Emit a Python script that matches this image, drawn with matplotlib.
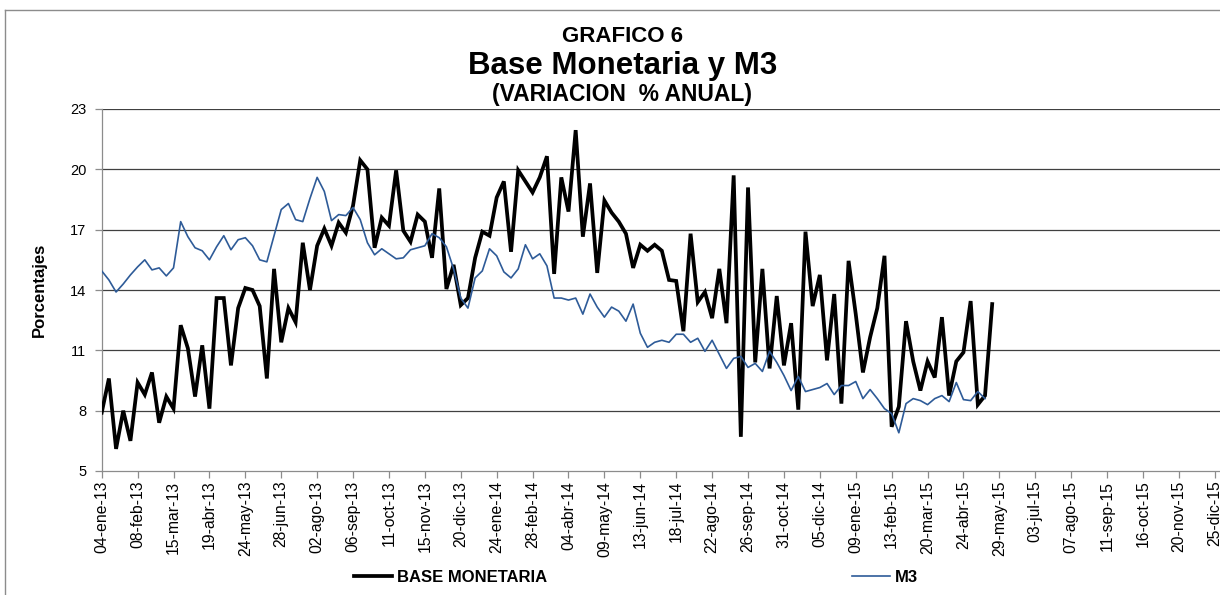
import matplotlib
matplotlib.use("Agg")
import matplotlib.pyplot as plt
import matplotlib.dates as mdates
from matplotlib.lines import Line2D
import numpy as np
import pandas as pd

plt.rcParams['font.family'] = ['Liberation Sans', 'DejaVu Sans']

# ---------------- data (weekly, from 04-ene-13) ----------------
start_date = '2013-01-04'
base_monetaria = [
    7.9, 9.6, 6.1, 8.0, 6.5, 9.4, 8.8, 9.9, 7.4, 8.7,
    8.1, 12.25, 11.1, 8.7, 11.25, 8.1, 13.6, 13.6, 10.25, 13.1,
    14.1, 14.0, 13.2, 9.6, 15.05, 11.4, 13.1, 12.4, 16.35, 14.0,
    16.2, 17.05, 16.2, 17.35, 16.85, 18.2, 20.45, 20.0, 16.1, 17.6,
    17.2, 19.95, 16.95, 16.4, 17.75, 17.4, 15.6, 19.05, 14.05, 15.25,
    13.25, 13.6, 15.6, 16.9, 16.7, 18.6, 19.4, 15.9, 19.95, 19.4,
    18.85, 19.6, 20.65, 14.8, 19.6, 17.9, 21.95, 16.65, 19.3, 14.85,
    18.45, 17.85, 17.4, 16.8, 15.1, 16.25, 15.95, 16.25, 15.95, 14.5,
    14.45, 11.95, 16.8, 13.4, 13.9, 12.6, 15.05, 12.35, 19.7, 6.7,
    19.1, 10.4, 15.05, 10.1, 13.7, 10.25, 12.35, 8.05, 16.9, 13.2,
    14.75, 10.5, 13.8, 8.35, 15.45, 12.8, 9.9, 11.65, 13.1, 15.7,
    7.2, 8.2, 12.45, 10.45, 9.0, 10.45, 9.65, 12.65, 8.75, 10.45,
    10.9, 13.45, 8.3, 8.75, 13.3,
]
m3 = [
    14.95, 14.5, 13.9, 14.3, 14.75, 15.15, 15.5, 15.0, 15.1, 14.7,
    15.1, 17.4, 16.65, 16.1, 15.95, 15.5, 16.15, 16.7, 16.0, 16.5,
    16.6, 16.2, 15.5, 15.4, 16.7, 18.0, 18.3, 17.5, 17.4, 18.55,
    19.6, 18.9, 17.45, 17.75, 17.7, 18.1, 17.5, 16.35, 15.75, 16.05,
    15.8, 15.55, 15.6, 16.0, 16.1, 16.2, 16.8, 16.6, 16.15, 15.05,
    13.6, 13.1, 14.6, 14.95, 16.05, 15.7, 14.9, 14.6, 15.05, 16.25,
    15.55, 15.8, 15.2, 13.6, 13.6, 13.5, 13.6, 12.8, 13.8, 13.15,
    12.65, 13.15, 12.95, 12.45, 13.3, 11.85, 11.15, 11.4, 11.5, 11.4,
    11.8, 11.8, 11.4, 11.6, 10.95, 11.5, 10.8, 10.1, 10.6, 10.7,
    10.15, 10.35, 9.95, 10.95, 10.4, 9.75, 9.0, 9.7, 8.95, 9.05,
    9.15, 9.35, 8.8, 9.25, 9.25, 9.45, 8.6, 9.05, 8.6, 8.1,
    7.85, 6.9, 8.35, 8.6, 8.5, 8.3, 8.6, 8.75, 8.45, 9.4,
    8.55, 8.5, 8.95, 8.6,
]
tick_labels = [
    '04-ene-13', '08-feb-13', '15-mar-13', '19-abr-13', '24-may-13', '28-jun-13',
    '02-ago-13', '06-sep-13', '11-oct-13', '15-nov-13', '20-dic-13', '24-ene-14',
    '28-feb-14', '04-abr-14', '09-may-14', '13-jun-14', '18-jul-14', '22-ago-14',
    '26-sep-14', '31-oct-14', '05-dic-14', '09-ene-15', '13-feb-15', '20-mar-15',
    '24-abr-15', '29-may-15', '03-jul-15', '07-ago-15', '11-sep-15', '16-oct-15',
    '20-nov-15', '25-dic-15',
]
y_ticks = [5, 8, 11, 14, 17, 20, 23]

dates_bm = pd.date_range(start_date, periods=len(base_monetaria), freq='7D')
dates_m3 = pd.date_range(start_date, periods=len(m3), freq='7D')
tick_dates = pd.date_range(start_date, periods=len(tick_labels), freq='35D')

# ---------------- figure ----------------
fig = plt.figure(figsize=(12.2, 5.95), dpi=100)
ax = fig.add_axes([101.7 / 1220, (595 - 471) / 595, (1222 - 101.7) / 1220, 362 / 595])

ax.plot(dates_bm, base_monetaria, color='black', lw=2.7, solid_joinstyle='miter',
        label='BASE MONETARIA', zorder=3)
ax.plot(dates_m3, m3, color='#2E5B98', lw=1.2, label='M3', zorder=4)

x0 = pd.Timestamp(start_date)
ax.set_xlim(mdates.date2num(x0), mdates.date2num(x0) + 1092)
ax.set_ylim(5, 23)
ax.set_yticks(y_ticks)
ax.set_yticklabels([str(v) for v in y_ticks], fontsize=10.5)
ax.set_xticks(mdates.date2num(tick_dates))
ax.set_xticklabels(tick_labels, rotation=90, fontsize=11.3)

for v in y_ticks[1:]:
    ax.axhline(v, color='#404040', lw=0.9, zorder=1)

for s in ['top', 'right']:
    ax.spines[s].set_visible(False)
ax.spines['left'].set_color('#8c8c8c')
ax.spines['bottom'].set_color('#8c8c8c')
ax.spines['left'].set_linewidth(0.9)
ax.spines['bottom'].set_linewidth(0.9)
ax.tick_params(axis='both', direction='out', length=5, color='#8c8c8c', width=0.9)
ax.tick_params(axis='x', pad=2)
ax.tick_params(axis='y', pad=6)

ax.set_ylabel('Porcentajes', fontsize=12, fontweight='bold', labelpad=17)

fig.text(0.51, 1 - 36 / 595, 'GRAFICO 6', ha='center', va='center',
         fontsize=16, fontweight='bold')
fig.text(0.51, 1 - 66 / 595, 'Base Monetaria y M3', ha='center', va='center',
         fontsize=22.5, fontweight='bold')
fig.text(0.51, 1 - 95 / 595, '(VARIACION  % ANUAL)', ha='center', va='center',
         fontsize=16.5, fontweight='bold')

handles, labels = ax.get_legend_handles_labels()
leg = fig.legend(handles, labels, loc='center', bbox_to_anchor=(636 / 1220, 1 - 577 / 595),
                 ncol=2, frameon=False, prop={'weight': 'bold', 'size': 12},
                 handlelength=2.3, handletextpad=0.3, columnspacing=18.3)

# outer chart border (partially visible)
fig.add_artist(Line2D([5 / 1220, 1.0], [1 - 10 / 595, 1 - 10 / 595],
                      transform=fig.transFigure, color='#8c8c8c', lw=1))
fig.add_artist(Line2D([5 / 1220, 5 / 1220], [0, 1 - 10 / 595],
                      transform=fig.transFigure, color='#8c8c8c', lw=1))

fig.savefig('out.png', dpi=100)
